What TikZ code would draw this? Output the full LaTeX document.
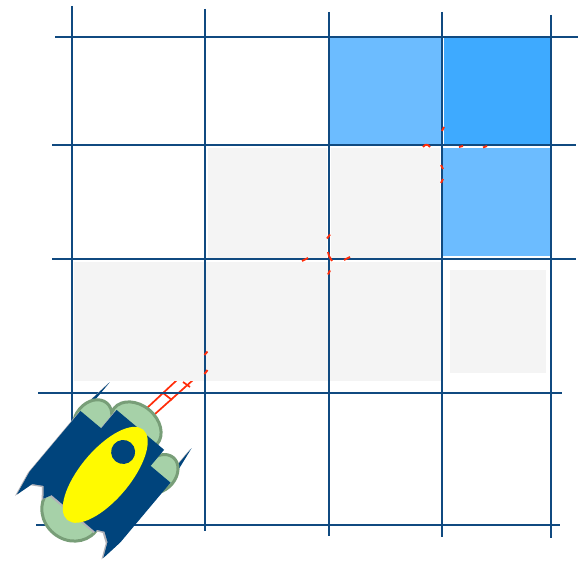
\documentclass[tikz,border=0pt]{standalone}
\begin{document}
\definecolor{gridblue}{RGB}{16,74,128}
\definecolor{cellA}{RGB}{108,188,255}
\definecolor{cellB}{RGB}{62,170,255}
\definecolor{cellgray}{RGB}{244,244,244}
\definecolor{pathred}{RGB}{255,45,10}
\definecolor{robotblue}{RGB}{0,68,124}
\definecolor{wheelfill}{RGB}{166,209,168}
\definecolor{wheeldraw}{RGB}{120,158,120}
\definecolor{robotshade}{RGB}{178,178,184}
\definecolor{botyellow}{RGB}{255,250,0}
% dark parts of the rover: tread spikes, body and the two tracks
\newcommand\rbtSpikes[1]{%
  \fill[#1] (31,59) -- (72,54) -- (44,54) -- cycle;
  \fill[#1] (34,-57) -- (74,-51) -- (46,-51) -- cycle;}
\newcommand\rbtHull[1]{%
  \fill[#1] (-52,-31) -- (55,-31) -- (55,31) -- (-52,31) -- cycle;
  \fill[#1] (31,26) -- (31,58) -- (-48,58) -- (-74,53) -- (-56,48)
            -- (-50,38) -- (-60,30) -- (-52,26) -- cycle;
  \fill[#1] (34,-28) -- (34,-57) -- (-44,-57) -- (-67,-54) -- (-52,-47)
            -- (-46,-38) -- (-50,-30) -- (-46,-28) -- cycle;}
\begin{tikzpicture}[x=1pt,y=-1pt,
  gridline/.style={line width=2.8pt, draw=gridblue},
  graycell/.style={fill=cellgray},
  redmark/.style={draw=pathred, line width=1.9pt},
  ladder/.style={draw=pathred, line width=1.7pt},
  wheel/.style={fill=wheelfill, draw=wheeldraw, line width=3pt}]
\useasboundingbox (0,0) rectangle (580,564);

% trail leaving the rover (runs under the visited cells)
\draw[ladder] (147,408) -- (177,380);
\draw[ladder] (155,414) -- (193,380);
\draw[ladder] (163,393) -- (172,400);
\draw[ladder] (183,382) -- (190,387);

% visited and goal cells
\fill[cellA] (330,38) rectangle (441.5,145);
\fill[cellB] (444,38) rectangle (551,145);
\fill[cellA] (443,148) rectangle (550,256);
\fill[graycell] (208,148) rectangle (327,258);
\fill[graycell] (331,148) rectangle (440,258);
\fill[graycell] (74,262) rectangle (441,381);
\fill[graycell] (450,270) rectangle (546,373);

% grid
\draw[gridline] (72,6) -- (72,528);
\draw[gridline] (205,9) -- (205,531);
\draw[gridline] (329,12) -- (329,536);
\draw[gridline] (442,12) -- (442,537);
\draw[gridline] (551,15) -- (551,538);
\draw[gridline] (55,37) -- (578,37);
\draw[gridline] (52,145) -- (576,145);
\draw[gridline] (52,259) -- (576,259);
\draw[gridline] (38,393) -- (562,393);
\draw[gridline] (36,525) -- (560,525);

% planned path showing between the cells
\draw[redmark] (204.5,355) -- (207.5,351.5);
\draw[redmark] (204.5,374) -- (207.5,370);
\draw[redmark] (327,238.5) -- (330,234.5);
\draw[redmark] (302,261) -- (308,258);
\draw[redmark] (344,260) -- (350,257);
\draw[redmark] (328,274.5) -- (330,270.5);
\draw[redmark] (328,252) -- (329,256) -- (332,261);
\draw[redmark] (442,131) -- (444,127);
\draw[redmark] (423,147) .. controls (425,144) and (428,144) .. (430,147);
\draw[redmark] (459,147) -- (463,146);
\draw[redmark] (483,147.5) -- (487,146);
\draw[redmark] (441,165) -- (443,169);
\draw[redmark] (441,183) -- (443,179);

% rover
\begin{scope}[shift={(105,472)}, x={(0.643pt,0.766pt)}, y={(-0.766pt,0.643pt)}]
  \begin{scope}[xshift=-1.8pt, yshift=-1.2pt]
    \rbtSpikes{robotshade}
  \end{scope}
  \rbtSpikes{robotblue}
  \draw[wheel] (55,6) ellipse [x radius=21, y radius=28];
  \draw[wheel] (-52,0) ellipse [x radius=28, y radius=31];
  \draw[wheel] (32,43) ellipse [x radius=22, y radius=17];
  \draw[wheel] (34,-43) ellipse [x radius=21, y radius=16];
  \begin{scope}[xshift=-1.8pt, yshift=-1.2pt]
    \rbtHull{robotshade}
  \end{scope}
  \rbtHull{robotblue}
  \fill[botyellow] (-2,-2) ellipse [x radius=59, y radius=25];
  \fill[robotblue] (27,-1) circle [radius=12];
\end{scope}
\end{tikzpicture}
\end{document}
